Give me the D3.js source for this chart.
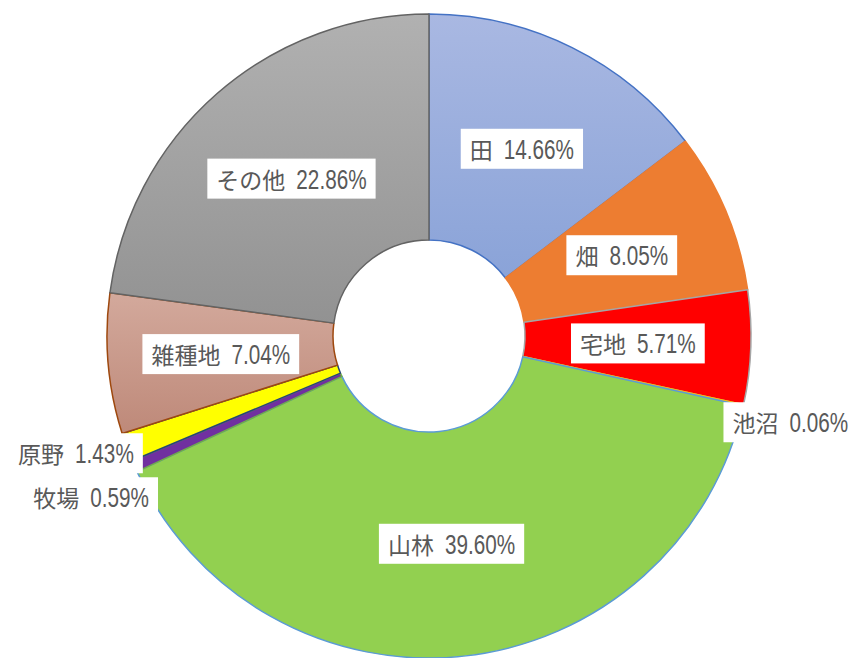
<!DOCTYPE html>
<html>
<head>
<meta charset="utf-8">
<script src="https://cdn.jsdelivr.net/npm/d3@7"></script>
<style>
  html, body { margin: 0; padding: 0; background: #ffffff; }
  svg { display: block; }
</style>
</head>
<body>
<svg id="chart" width="856" height="658"></svg>
<script>
// land use shares (percent), clockwise from 12 o'clock
var categories = ["田", "畑", "宅地", "池沼", "山林", "牧場", "原野", "雑種地", "その他"];
var values = [14.66, 8.05, 5.71, 0.06, 39.60, 0.59, 1.43, 7.04, 22.86];

// fills: a plain colour, or a [top, bottom] pair for a vertical gradient
var fills = [
    ["#a9b8e2", "#8aa3d8"], "#ed7d31", "#ff0000", "#ffc000", "#92d050",
    "#7030a0", "#ffff00", ["#d3a99c", "#be8979"], ["#b1b1b1", "#929292"]
];
// slice outlines follow the default office palette
var strokes = ["#4472c4", "#ed7d31", "#a5a5a5", "#ffc000", "#5b9bd5",
               "#70ad47", "#264478", "#9e480e", "#636363"];

var width = 856, height = 658;
var cx = 429, cy = 336;
var outer = 322, inner = 96;

var svg = d3.select("#chart");
var defs = svg.append("defs");

fills.forEach(function(f, i) {
    if (Array.isArray(f)) {
        var g = defs.append("linearGradient")
            .attr("id", "grad" + i)
            .attr("x1", 0).attr("y1", 0).attr("x2", 0).attr("y2", 1);
        g.append("stop").attr("offset", "0%").attr("stop-color", f[0]);
        g.append("stop").attr("offset", "100%").attr("stop-color", f[1]);
    }
});

function fill_of(i) {
    return Array.isArray(fills[i]) ? "url(#grad" + i + ")" : fills[i];
}

var pie = d3.pie().sort(null).value(function(d) { return d; });
var arcs = pie(values);

var arc = d3.arc().innerRadius(inner).outerRadius(outer);
var outer_arc = d3.arc().innerRadius(outer).outerRadius(outer);

var g = svg.append("g").attr("transform", "translate(" + cx + "," + cy + ")");

g.selectAll("path.slice")
    .data(arcs)
    .enter()
    .append("path")
    .attr("class", "slice")
    .attr("d", arc)
    .style("fill", function(d, i) { return fill_of(i); })
    .style("stroke", function(d, i) { return strokes[i]; })
    .style("stroke-width", 1.5)
    .style("stroke-linejoin", "round");

// work out label anchor points: inside for big slices, outside for tiny ones
var labels = arcs.map(function(d, i) {
    var lab = {i: i, text: categories[i], value: values[i].toFixed(2) + "%"};
    if (values[i] >= 3) {
        var c = arc.centroid(d);
        lab.x = c[0]; lab.y = c[1]; lab.anchor = "middle";
    } else {
        var o = outer_arc.centroid(d);
        var mid = (d.startAngle + d.endAngle) / 2;
        if (mid < Math.PI) {
            lab.x = o[0] - 11; lab.y = o[1] + 17; lab.anchor = "start";
        } else {
            lab.x = o[0] + 7; lab.y = o[1] + 6; lab.anchor = "end";
        }
    }
    return lab;
});

// push overlapping left-side labels down (go from top to bottom)
var left = labels.filter(function(l) { return l.anchor === "end"; })
                 .sort(function(a, b) { return a.y - b.y; });
for (var k = 1; k < left.length; k++) {
    if (left[k].y < left[k-1].y + 44) {
        var push = left[k-1].y + 44 - left[k].y;
        left[k].y += push;
        left[k].x += push * 0.3;
    }
}

var lg = g.selectAll("g.label")
    .data(labels)
    .enter()
    .append("g")
    .attr("class", "label");

var box = lg.append("rect").attr("class", "bg").style("fill", "#ffffff");
var inner_g = lg.append("g").attr("class", "txt");

// name in the CJK face
inner_g.append("text")
    .attr("class", "name")
    .attr("x", 0)
    .attr("y", 10)
    .style("fill", "#595959")
    .style("font-family", "'Noto Sans CJK JP', 'Noto Sans CJK SC', sans-serif")
    .style("font-size", "23px")
    .text(function(d) { return d.text; });

// the number is set narrow, like the original's tall condensed digits
inner_g.append("g")
    .attr("class", "num")
    .append("text")
    .attr("x", 0)
    .attr("y", 10)
    .style("fill", "#595959")
    .style("font-family", "'Liberation Sans', Arimo, sans-serif")
    .style("font-size", "28px")
    .text(function(d) { return d.value; });

var num_scale = 0.74, gap = 11;

lg.each(function(d) {
    var sel = d3.select(this);
    var nw = sel.select("text.name").node().getComputedTextLength();
    var vw = sel.select("g.num text").node().getComputedTextLength() * num_scale;
    d.w = nw + gap + vw;
    sel.select("g.num").attr("transform", "translate(" + (nw + gap) + ",0) scale(" + num_scale + ",1)");
    var x0 = d.anchor === "middle" ? d.x - d.w / 2 : (d.anchor === "end" ? d.x - d.w : d.x);
    sel.select("g.txt").attr("transform", "translate(" + x0 + "," + d.y + ")");
    sel.select("rect.bg")
        .attr("x", x0 - 9)
        .attr("y", d.y - 20)
        .attr("width", d.w + 18)
        .attr("height", 40);
});
</script>
</body>
</html>
